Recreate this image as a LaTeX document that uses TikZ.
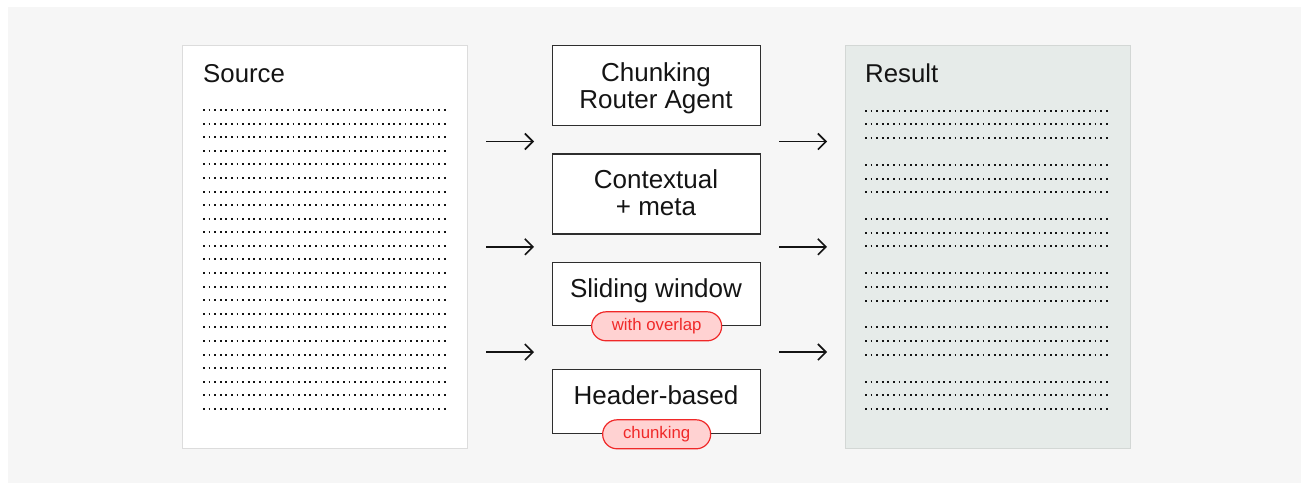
\documentclass[tikz,border=0pt]{standalone}
\usepackage{fontspec}
\setmainfont{Liberation Sans}
\usetikzlibrary{arrows.meta}
\definecolor{bgcol}{HTML}{F6F6F6}
\definecolor{srcborder}{HTML}{DCDCDC}
\definecolor{resfill}{HTML}{E6EBE9}
\definecolor{resborder}{HTML}{D3D7D5}
\definecolor{ink}{HTML}{141414}
\definecolor{boxborder}{HTML}{2E2E2E}
\definecolor{pillfill}{HTML}{FFD2D2}
\definecolor{pillred}{HTML}{F02828}
\begin{document}
\begin{tikzpicture}[x=1pt,y=-1pt,
  docbox/.style={draw, line width=1.2pt, inner sep=0pt, anchor=north west},
  stepbox/.style={draw=boxborder, fill=white, line width=1.3pt, inner sep=0pt, anchor=north west, minimum width=208pt},
  title/.style={text=ink, font=\fontsize{25.8}{30}\selectfont, inner sep=0pt},
  boxlabel/.style={text=ink, font=\fontsize{26}{26.7}\selectfont, inner sep=0pt, align=center, anchor=base},
  pill/.style={draw=pillred, fill=pillfill, text=pillred, line width=1.2pt, rounded corners=14.5pt, minimum height=29pt, minimum width=#1, inner xsep=0pt, inner ysep=0pt, font=\fontsize{16.8}{18}\selectfont},
  dotline/.style={draw=ink, line width=1.7pt, dash pattern=on 1.7pt off 3.9pt},
  flow/.style={draw=ink, line width=1.6pt, -{Straight Barb[length=8pt,width=16pt,line width=1.6pt]}}
]
\useasboundingbox (0,0) rectangle (1301,483);
\fill[bgcol] (8,7) rectangle (1301,483);

% Source document
\node[docbox, draw=srcborder, fill=white, minimum width=285pt, minimum height=403pt] (source) at (182,45) {};
\node[title, anchor=base west] (sourcetitle) at (203,82) {Source};
\foreach \i in {0,...,22}{
  \pgfmathsetmacro{\yy}{round(110+\i*13.59)}
  \draw[dotline] (203,\yy) -- (448,\yy);
}

% Result document
\node[docbox, draw=resborder, fill=resfill, minimum width=285pt, minimum height=403pt] (result) at (845,45) {};
\node[title, anchor=base west] (resulttitle) at (865,82) {Result};
\foreach \g in {0,...,5}{
  \foreach \j in {0,1,2}{
    \pgfmathsetmacro{\yy}{round(110.7+\g*54.2+\j*13.7)}
    \draw[dotline] (865,\yy) -- (1110,\yy);
  }
}

% Strategy boxes
\node[stepbox, minimum height=80pt] (router) at (552,45) {};
\node[boxlabel] (routerlabel) at (656,108.3) {Chunking\\Router Agent};
\node[stepbox, minimum height=80pt] (context) at (552,153.3) {};
\node[boxlabel] (contextlabel) at (656,215) {Contextual\\+ meta};
\node[stepbox, minimum height=63.5pt] (sliding) at (552,261.5) {};
\node[boxlabel] (slidinglabel) at (656,297) {Sliding window};
\node[stepbox, minimum height=64pt] (header) at (552,369) {};
\node[boxlabel] (headerlabel) at (656,404.5) {Header-based};

\node[pill=130pt] (overlap) at (sliding.south) {with overlap};
\node[pill=108pt] (chunkpill) at (header.south) {chunking};

% Arrows
\foreach \k/\y in {1/141.5,2/246.8,3/352}{
  \coordinate (l\k s) at (486,\y);
  \coordinate (l\k e) at (534,\y);
  \coordinate (r\k s) at (779,\y);
  \coordinate (r\k e) at (827,\y);
  \draw[flow] (l\k s) -- (l\k e);
  \draw[flow] (r\k s) -- (r\k e);
}
\end{tikzpicture}
\end{document}
